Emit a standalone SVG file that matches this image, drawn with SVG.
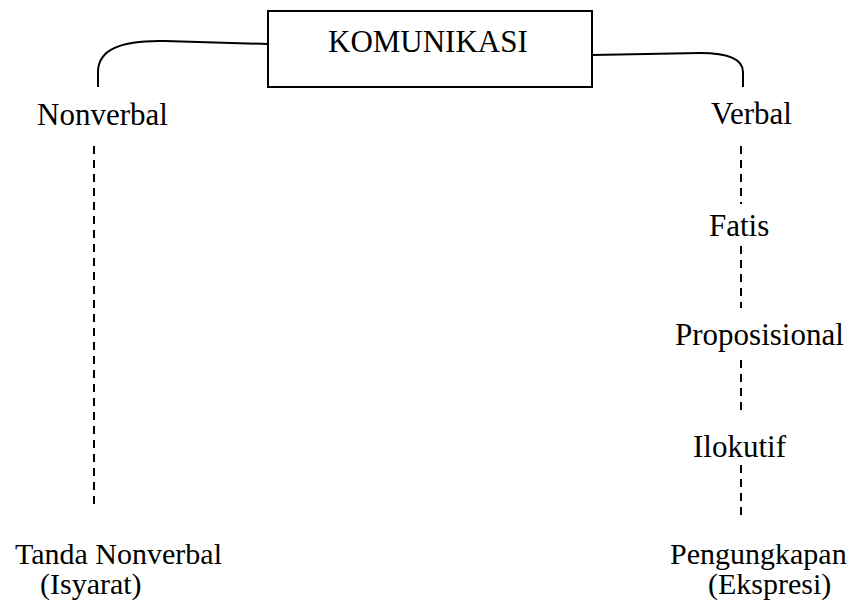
<svg xmlns="http://www.w3.org/2000/svg" width="861" height="609" viewBox="0 0 861 609">
<style>
text{font-family:"Liberation Serif","Times New Roman",serif;font-size:31px;fill:#000}
.small{font-size:30px}
.solid{fill:none;stroke:#000;stroke-width:2}
.dash{fill:none;stroke:#000;stroke-width:2;stroke-dasharray:8 6}
</style>
<rect width="861" height="609" fill="#fff"/>
<g id="connectors">
<path class="solid" d="M268,44 L165,41 C120,40 98,50 98,72 L98,87"/>
<path class="solid" d="M592,55 L700,53 C735,53 743,62 743,72 L743,87"/>
<line class="dash" x1="94" y1="146" x2="94" y2="506"/>
<line class="dash" x1="741" y1="146" x2="741" y2="204"/>
<line class="dash" x1="741" y1="246" x2="741" y2="308"/>
<line class="dash" x1="741" y1="360" x2="741" y2="410"/>
<line class="dash" x1="741" y1="465" x2="741" y2="516"/>
</g>
<g id="komunikasi">
<rect x="268" y="11" width="324" height="76" fill="#fff" stroke="#000" stroke-width="2"/>
<text x="328" y="52">KOMUNIKASI</text>
</g>
<g id="nonverbal"><text x="37" y="125">Nonverbal</text></g>
<g id="verbal"><text x="711" y="124">Verbal</text></g>
<g id="fatis"><text x="709" y="236">Fatis</text></g>
<g id="proposisional"><text x="675" y="345">Proposisional</text></g>
<g id="ilokutif"><text x="693" y="457">Ilokutif</text></g>
<g id="tanda"><text class="small" x="15" y="564">Tanda Nonverbal</text><text class="small" x="40" y="594">(Isyarat)</text></g>
<g id="pengungkapan"><text class="small" x="670" y="564">Pengungkapan</text><text class="small" x="708" y="594">(Ekspresi)</text></g>
</svg>
